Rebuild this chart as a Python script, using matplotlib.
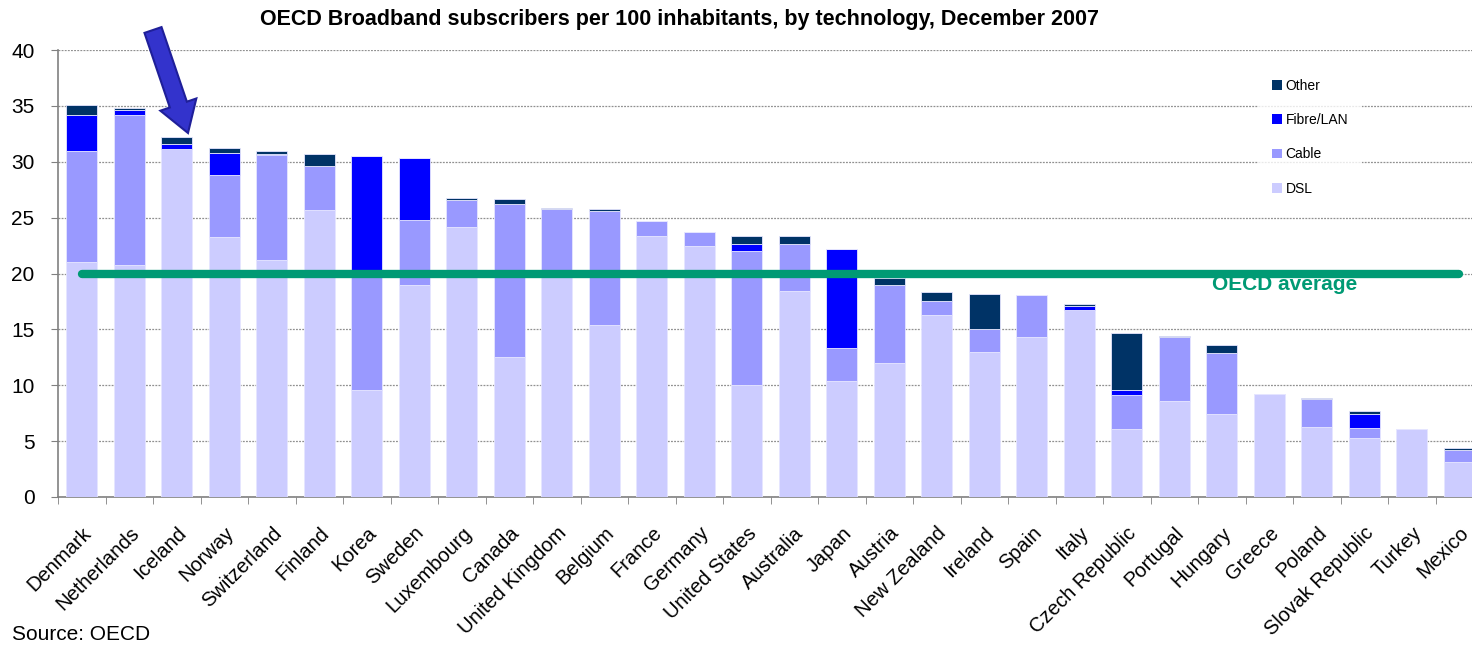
# -*- coding: utf-8 -*-
# OECD broadband subscribers per 100 inhabitants, by technology, Dec 2007

import numpy as np
import matplotlib
matplotlib.use('Agg')
import matplotlib.pyplot as plt
from matplotlib.patches import Patch, FancyArrow

plt.rcParams['font.family'] = ['Liberation Sans', 'DejaVu Sans']

countries = ['Denmark', 'Netherlands', 'Iceland', 'Norway', 'Switzerland', 'Finland',
             'Korea', 'Sweden', 'Luxembourg', 'Canada', 'United Kingdom', 'Belgium',
             'France', 'Germany', 'United States', 'Australia', 'Japan', 'Austria',
             'New Zealand', 'Ireland', 'Spain', 'Italy', 'Czech Republic', 'Portugal',
             'Hungary', 'Greece', 'Poland', 'Slovak Republic', 'Turkey', 'Mexico']

dsl   = [21.0, 20.8, 31.1, 23.3, 21.2, 25.7, 9.6, 19.0, 24.2, 12.5, 20.1, 15.4, 23.4, 22.5,
         10.0, 18.4, 10.4, 12.0, 16.3, 13.0, 14.3, 16.7, 6.1, 8.6, 7.4, 9.2, 6.3, 5.3, 6.1, 3.1]
cable = [10.0, 13.4, 0.05, 5.5, 9.4, 3.9, 10.7, 5.8, 2.4, 13.7, 5.7, 10.2, 1.3, 1.2,
         12.0, 4.2, 2.9, 7.0, 1.2, 2.0, 3.75, 0.0, 3.0, 5.7, 5.5, 0.0, 2.5, 0.9, 0.0, 1.15]
fibre = [3.2, 0.4, 0.4, 2.0, 0.1, 0.0, 10.2, 5.5, 0.0, 0.0, 0.0, 0.0, 0.0, 0.0,
         0.6, 0.0, 8.9, 0.0, 0.0, 0.05, 0.05, 0.4, 0.5, 0.0, 0.0, 0.0, 0.0, 1.2, 0.0, 0.0]
other = [0.9, 0.2, 0.7, 0.4, 0.25, 1.1, 0.0, 0.05, 0.15, 0.45, 0.05, 0.2, 0.0, 0.05,
         0.8, 0.8, 0.0, 0.6, 0.8, 3.1, 0.0, 0.2, 5.1, 0.1, 0.7, 0.0, 0.05, 0.3, 0.0, 0.15]

series = ['DSL', 'Cable', 'Fibre/LAN', 'Other']
colors = ['#ccccff', '#9999ff', '#0000ff', '#003366']
oecd_avg = 20.0

fig = plt.figure(figsize=(14.72, 6.45), dpi=100)
ax = fig.add_axes([58/1472, 1-497/645, 1425/1472, 447/645])

x = np.arange(len(countries))
bottom = np.zeros(len(countries))
for vals, c in zip([dsl, cable, fibre, other], colors):
    ax.bar(x, vals, 0.66, bottom=bottom, color=c, edgecolor='#e6e6ff', linewidth=0.6, zorder=3)
    bottom += np.array(vals)

# OECD average line
ax.plot([x[0], x[-1]], [oecd_avg, oecd_avg], color='#009a74', lw=6,
        solid_capstyle='round', zorder=4)
ax.text(25.33, oecd_avg - 0.1, 'OECD average', color='#009a74', fontsize=15,
        fontweight='bold', ha='center', va='top', zorder=5)

ax.set_xlim(-0.5, len(countries) - 0.5)
ax.set_ylim(0, 40)
ax.set_yticks(np.arange(0, 41, 5))
ax.tick_params(axis='y', labelsize=15, length=5, color='#808080', pad=12)
ax.yaxis.grid(True, linestyle=(0, (1.5, 1)), color='#909090', lw=0.9, zorder=0)

ax.set_xticks(x)
ax.set_xticklabels(countries, rotation=45, ha='right', rotation_mode='anchor', fontsize=14.5)
ax.tick_params(axis='x', length=0, pad=19)
ax.set_xticks(np.arange(-0.5, len(countries), 1), minor=True)
ax.tick_params(axis='x', which='minor', length=5, color='#808080')

for s in ['top', 'right']:
    ax.spines[s].set_visible(False)
ax.spines['left'].set_color('#808080')
ax.spines['bottom'].set_color('#808080')
ax.spines['left'].set_linewidth(1.2)
ax.spines['bottom'].set_linewidth(1.2)

handles = [Patch(facecolor=c, edgecolor='none') for c in colors][::-1]
leg = ax.legend(handles, series[::-1], loc='upper left',
                bbox_to_anchor=(1251/1472, 1-58/645), bbox_transform=fig.transFigure,
                fontsize=10, frameon=True, fancybox=False, handlelength=0.7,
                handleheight=0.7, handletextpad=0.3, labelspacing=1.46, borderpad=1.0)
leg.get_frame().set_facecolor('white')
leg.get_frame().set_edgecolor('none')
leg.set_zorder(6)

fig.text(680/1472, 1-20/645, 'OECD Broadband subscribers per 100 inhabitants, by technology, December 2007',
         ha='center', va='center', fontsize=15.5, fontweight='bold')
fig.text(12/1472, 1-634/645, 'Source: OECD', ha='left', va='center', fontsize=15)

# arrow pointing at Iceland
arr = FancyArrow(1.53, 6.15, 0.35, -1.03, width=0.18, head_width=0.38, head_length=0.3,
                 length_includes_head=True, transform=fig.dpi_scale_trans,
                 facecolor='#3333cc', edgecolor='#1f1f99', lw=1.5, zorder=10)
fig.patches.append(arr)

fig.savefig('out.png', dpi=100)
